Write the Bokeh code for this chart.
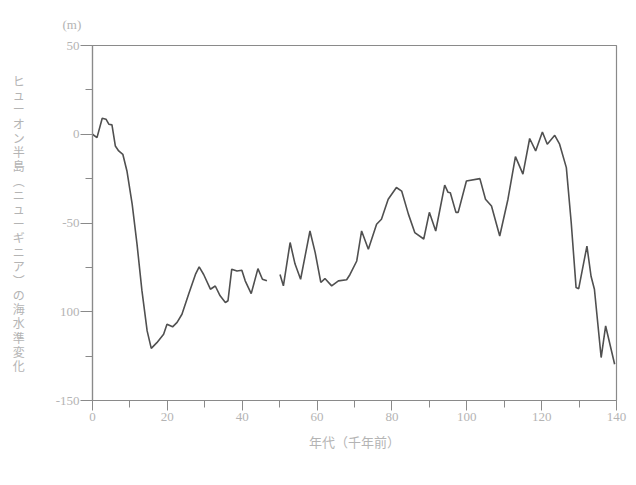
from bokeh.plotting import figure
from bokeh.models import FixedTicker
from bokeh.embed import file_html
from bokeh.resources import INLINE

# --- data ---
age_a = [0.0, 1.2, 2.6, 3.6, 4.4, 5.2, 6.1, 7.0, 8.1, 9.2, 10.6, 11.9, 13.2, 14.6, 15.7,
         17.2, 19.0, 19.9, 21.4, 22.6, 23.9, 25.7, 27.5, 28.5, 29.7, 31.5, 32.8, 34.1,
         35.5, 36.2, 37.2, 38.6, 39.9, 40.8, 42.4, 44.2, 45.4, 46.6]
sea_a = [0.0, -1.9, 9.0, 8.5, 5.6, 5.3, -6.6, -9.4, -11.3, -20.7, -39.4, -62.0, -88.0,
         -110.8, -120.6, -117.4, -112.7, -107.0, -108.5, -106.0, -101.4, -90.0, -79.0,
         -74.7, -79.0, -87.3, -85.5, -91.0, -94.8, -93.8, -76.0, -77.0, -76.6, -82.6,
         -89.8, -75.7, -81.7, -82.6]

age_b = [50.1, 51.0, 52.8, 54.1, 55.6, 58.1, 59.5, 61.0, 62.1, 63.9, 65.7, 67.9, 68.8,
         70.6, 71.9, 73.7, 75.9, 77.2, 79.0, 81.2, 82.6, 84.4, 86.1, 88.5, 90.0, 91.7,
         94.1, 95.0, 95.6, 97.1, 97.7, 99.9, 103.5, 105.0, 106.6, 108.8, 111.0, 113.0,
         115.0, 116.8, 118.4, 120.2, 121.5, 123.5, 124.8, 126.6, 127.9, 129.2, 129.9,
         132.1, 133.2, 134.1, 135.9, 137.1, 139.5]
sea_b = [-79.0, -85.4, -61.0, -73.0, -81.7, -54.5, -66.7, -83.5, -81.3, -85.4, -82.6,
         -82.0, -79.0, -71.4, -54.5, -64.8, -50.7, -47.9, -36.6, -30.0, -32.0, -45.0,
         -55.4, -59.0, -44.0, -54.5, -28.7, -32.7, -33.0, -44.0, -44.0, -26.3, -25.0,
         -36.6, -40.4, -57.3, -36.6, -12.6, -22.5, -2.4, -9.4, 1.3, -5.6, -0.6, -5.6,
         -18.8, -49.7, -86.4, -87.0, -63.0, -80.0, -87.3, -125.8, -108.0, -129.6]

x_ticks = [0, 20, 40, 60, 80, 100, 120, 140]
x_minor = [10, 30, 50, 70, 90, 110, 130]
y_ticks = [-150, -100, -50, 0, 50]
y_minor = [-125, -75, -25, 25]
y_tick_labels = {-150: "-150", -100: "100", -50: "-50", 0: "0", 50: "50"}

x_title = "年代（千年前）"
y_title = "ヒューオン半島︵ニューギニア︶の海水準変化"
unit_text = "(m)"

# --- styling ---
TXT = "#b4b4b4"
AX = "#8a8a8a"
LN = "#505050"
SERIF = "Liberation Serif"
CJK = "Noto Sans CJK JP"

p = figure(width=628, height=477, x_range=(0, 140), y_range=(-150, 50),
           output_backend="svg", toolbar_location=None,
           min_border_left=92, min_border_right=12, min_border_top=45, min_border_bottom=77)
p.background_fill_color = "white"
p.border_fill_color = "white"
p.grid.visible = False
p.outline_line_color = AX
p.outline_line_width = 1.2

p.line(age_a, sea_a, line_color=LN, line_width=1.6)
p.line(age_b, sea_b, line_color=LN, line_width=1.6)

p.xaxis.ticker = FixedTicker(ticks=x_ticks, minor_ticks=x_minor)
p.yaxis.ticker = FixedTicker(ticks=y_ticks, minor_ticks=y_minor)
p.yaxis.major_label_overrides = y_tick_labels

for ax in (p.xaxis[0], p.yaxis[0]):
    ax.axis_line_color = AX
    ax.axis_line_width = 1.2
    ax.major_tick_line_color = AX
    ax.minor_tick_line_color = AX
    ax.major_tick_in = 0
    ax.minor_tick_in = 0
    ax.major_label_text_color = TXT
    ax.major_label_text_font = SERIF
    ax.major_label_text_font_size = "13px"

p.xaxis.major_tick_out = 10
p.xaxis.minor_tick_out = 7
p.xaxis.major_label_standoff = 2
p.yaxis.major_tick_out = 12
p.yaxis.minor_tick_out = 7
p.yaxis.major_label_standoff = 1

p.xaxis.axis_label = x_title
p.xaxis.axis_label_text_font = CJK
p.xaxis.axis_label_text_font_size = "13px"
p.xaxis.axis_label_text_font_style = "normal"
p.xaxis.axis_label_text_color = TXT
p.xaxis.axis_label_standoff = 8

p.yaxis.axis_label = "\n".join(y_title)
p.yaxis.axis_label_orientation = "horizontal"
p.yaxis.axis_label_text_font = CJK
p.yaxis.axis_label_text_font_size = "12px"
p.yaxis.axis_label_text_font_style = "normal"
p.yaxis.axis_label_text_color = TXT
p.yaxis.axis_label_text_line_height = 0.84
p.yaxis.axis_label_standoff = 28

p.title.text = unit_text
p.title.align = "left"
p.title.offset = -30
p.title.standoff = 28
p.title.text_font = SERIF
p.title.text_font_size = "13px"
p.title.text_font_style = "normal"
p.title.text_color = TXT

open("out.html", "w").write(file_html(p, INLINE))
